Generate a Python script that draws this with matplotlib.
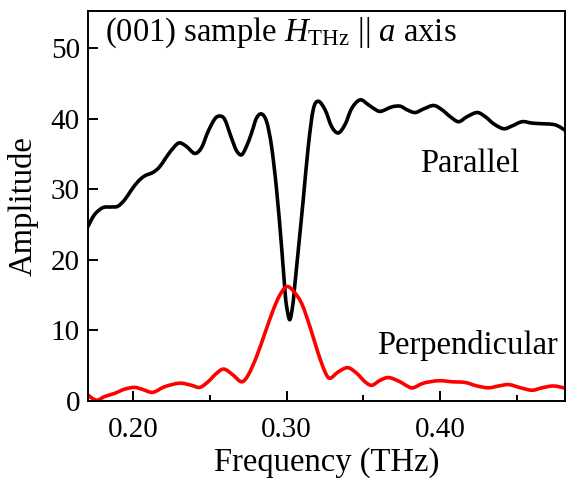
import matplotlib
matplotlib.use("Agg")
import matplotlib.pyplot as plt
import numpy as np
from matplotlib.path import Path
from matplotlib.patches import PathPatch
from matplotlib.ticker import MultipleLocator

plt.rcParams['font.family'] = ['Liberation Serif', 'DejaVu Serif']
plt.rcParams['mathtext.fontset'] = 'custom'
plt.rcParams['mathtext.rm'] = 'Liberation Serif'
plt.rcParams['mathtext.it'] = 'Liberation Serif:italic'

# Parallel (black) curve: frequency (THz), amplitude
par_freq = [0.1707, 0.1750, 0.1804, 0.1859, 0.1902, 0.1946, 0.1990, 0.2033, 0.2076, 0.2130,
            0.2174, 0.2228, 0.2272, 0.2304, 0.2348, 0.2402, 0.2446, 0.2489, 0.2533, 0.2565,
            0.2598, 0.2641, 0.2674, 0.2707, 0.2739, 0.2772, 0.2804, 0.2837, 0.2870, 0.2902,
            0.2935, 0.2967, 0.2989, 0.3000, 0.3020, 0.3039, 0.3050, 0.3076, 0.3108, 0.3141,
            0.3173, 0.3206, 0.3250, 0.3293, 0.3336, 0.3380, 0.3424, 0.3478, 0.3532, 0.3587,
            0.3619, 0.3684, 0.3739, 0.3782, 0.3836, 0.3890, 0.3956, 0.4010, 0.4065, 0.4119,
            0.4173, 0.4239, 0.4293, 0.4347, 0.4412, 0.4467, 0.4532, 0.4597, 0.4673, 0.4738,
            0.4782, 0.4821]
par_amp = [24.7, 26.4, 27.4, 27.5, 27.6, 28.5, 29.9, 31.1, 31.9, 32.4,
           33.2, 34.9, 36.1, 36.6, 36.1, 35.1, 35.9, 38.2, 40.0, 40.4,
           39.9, 37.3, 35.5, 34.9, 36.1, 38.0, 40.1, 40.7, 39.6, 36.1,
           29.9, 21.9, 15.7, 13.4, 11.5, 13.4, 15.7, 21.4, 28.5, 36.1,
           41.3, 42.5, 41.3, 38.9, 38.0, 39.2, 41.5, 42.7, 42.0, 41.2,
           41.1, 41.7, 41.8, 41.3, 40.9, 41.4, 41.9, 41.3, 40.3, 39.6,
           40.3, 40.9, 40.3, 39.3, 38.6, 39.0, 39.6, 39.4, 39.3, 39.2,
           38.8, 38.2]

# Perpendicular (red) curve
perp_freq = [0.1711, 0.1739, 0.1772, 0.1816, 0.1881, 0.1946, 0.2011, 0.2065, 0.2130, 0.2207,
             0.2304, 0.2381, 0.2435, 0.2489, 0.2544, 0.2593, 0.2652, 0.2707, 0.2750, 0.2804,
             0.2859, 0.2913, 0.2956, 0.3000, 0.3043, 0.3098, 0.3152, 0.3206, 0.3250, 0.3282,
             0.3336, 0.3398, 0.3456, 0.3510, 0.3554, 0.3608, 0.3662, 0.3728, 0.3793, 0.3825,
             0.3890, 0.3988, 0.4076, 0.4162, 0.4239, 0.4314, 0.4379, 0.4445, 0.4521, 0.4597,
             0.4662, 0.4738, 0.4821]
perp_amp = [0.8, 0.3, 0.1, 0.6, 1.05, 1.65, 1.9, 1.6, 1.2, 2.0,
            2.5, 2.2, 1.9, 2.7, 3.9, 4.5, 3.65, 2.7, 3.65, 6.25,
            9.6, 12.9, 15.0, 16.2, 15.6, 13.8, 10.5, 6.7, 4.1, 3.2,
            4.1, 4.7, 3.9, 2.7, 2.2, 2.9, 3.3, 2.8, 2.0, 1.85,
            2.5, 2.85, 2.7, 2.6, 2.1, 1.85, 2.1, 2.3, 1.85, 1.5,
            1.85, 2.1, 1.75]

x_ticks = [0.20, 0.30, 0.40]
x_tick_labels = ['0.20', '0.30', '0.40']
y_ticks = [0, 10, 20, 30, 40, 50]


def smooth_path(xs, ys):
    """Catmull-Rom curve through the data points, expressed as cubic Bezier segments."""
    p = np.column_stack([xs, ys]).astype(float)
    n = len(p)
    verts = [p[0]]
    codes = [Path.MOVETO]
    for i in range(n - 1):
        p0 = p[i - 1] if i > 0 else p[i]
        p1 = p[i]
        p2 = p[i + 1]
        p3 = p[i + 2] if i + 2 < n else p[i + 1]
        c1 = p1 + (p2 - p0) / 6.0
        c2 = p2 - (p3 - p1) / 6.0
        verts += [c1, c2, p2]
        codes += [Path.CURVE4] * 3
    return Path(np.array(verts), codes)


fig = plt.figure(figsize=(5.66, 4.80), dpi=100)
ax = fig.add_axes([0.156, 0.165, 0.842, 0.812])

for xs, ys, col in [(par_freq, par_amp, 'black'), (perp_freq, perp_amp, '#ff0000')]:
    ax.add_patch(PathPatch(smooth_path(xs, ys), facecolor='none', edgecolor=col,
                           lw=2.6, joinstyle='round', capstyle='round'))

ax.set_xlim(0.171, 0.481)
ax.set_ylim(0, 55.3)
ax.set_xticks(x_ticks)
ax.set_xticklabels(x_tick_labels)
ax.xaxis.set_minor_locator(MultipleLocator(0.05))
ax.set_yticks(y_ticks)

ax.tick_params(axis='both', which='major', direction='in', length=7, width=1.4,
               labelsize=21, top=False, right=False)
ax.tick_params(axis='x', which='major', pad=12)
ax.tick_params(axis='y', which='major', pad=6)
ax.tick_params(axis='x', which='minor', direction='in', length=4, width=1.4, top=False)
for s in ax.spines.values():
    s.set_linewidth(1.4)

ax.set_xlabel('Frequency (THz)', fontsize=23.5, labelpad=3)
ax.set_ylabel('Amplitude', fontsize=23.5, labelpad=9)

ax.text(0.1816, 51.1, r'(001) sample $H_{\mathrm{THz}}$ || $a$ axis', fontsize=23.5, va='baseline', ha='left')
ax.text(0.3869, 32.5, 'Parallel', fontsize=23.5, va='baseline', ha='left')
ax.text(0.3589, 6.7, 'Perpendicular', fontsize=23.5, va='baseline', ha='left')

fig.savefig('out.png', dpi=100)
